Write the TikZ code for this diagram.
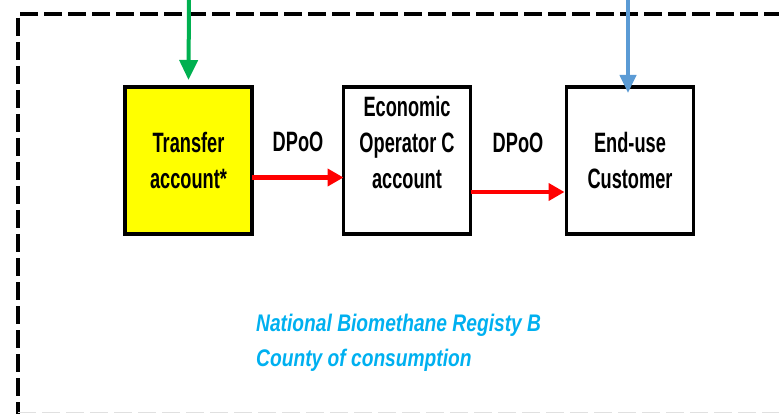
\documentclass[tikz,border=0pt]{standalone}
\usepackage{fontspec}
\newfontfamily\boxfont[FakeStretch=0.65]{Liberation Sans}
\newfontfamily\regfont[FakeStretch=0.8]{Liberation Sans}
\usetikzlibrary{arrows.meta}
\definecolor{boxyellow}{RGB}{255,255,0}
\definecolor{arrred}{RGB}{255,0,0}
\definecolor{arrgreen}{RGB}{0,176,80}
\definecolor{arrblue}{RGB}{91,155,213}
\definecolor{regblue}{RGB}{0,176,240}
\tikzset{
  acctbox/.style={draw=black, line width=3.5pt, minimum width=127pt, minimum height=147pt,
    inner sep=0pt, outer sep=0pt, align=center,
    font=\boxfont\bfseries\fontsize{28}{36}\selectfont},
  lbl/.style={inner sep=0pt, font=\boxfont\bfseries\fontsize{28}{36}\selectfont},
  redarrow/.style={draw=arrred, line width=4.5pt, -{Triangle[length=16pt,width=17pt]}},
  greenarrow/.style={draw=arrgreen, line width=4pt, -{Triangle[length=20pt,width=18pt]}},
  bluearrow/.style={draw=arrblue, line width=4pt, -{Triangle[length=18pt,width=16pt]}},
  border/.style={draw=black, line width=3.5pt, dash pattern=on 18pt off 6pt},
  regtext/.style={text=regblue, inner sep=0pt, align=left,
    font=\regfont\bfseries\itshape\fontsize{24}{35}\selectfont}
}
\begin{document}
\begin{tikzpicture}[x=1pt,y=-1pt]
\useasboundingbox (0,0) rectangle (779,414);
% registry frame
\draw[border] (782,14) -- (18,14) -- (18,416);
\draw[draw=black!12, line width=1.5pt, dash pattern=on 18pt off 6pt] (18,412.5) -- (782,412.5);
% boxes
\node[acctbox, fill=boxyellow] (ta) at (188.5,160.5) {Transfer\\account*};
\node[acctbox, fill=white] (eo) at (407,160.5) {Economic\\Operator C\\account\\\mbox{}};
\node[acctbox, fill=white] (eu) at (630,160.5) {End-use\\Customer};
% incoming arrows
\coordinate (gtop) at (189,-2);
\coordinate (btop) at (628,-2);
\draw[greenarrow] (gtop) -- ([yshift=7pt]ta.north);
\draw[bluearrow] (btop) -- ([xshift=-2pt,yshift=-6pt]eu.north);
% transfers
\draw[redarrow] ([yshift=-17pt]ta.east) -- ([yshift=-17pt]eo.west);
\draw[redarrow] ([yshift=-31.5pt]eo.east) -- ([xshift=-2pt,yshift=-31.5pt]eu.west);
\node[lbl] (d1) at (298,142) {DPoO};
\node[lbl] (d2) at (518,143) {DPoO};
% registry label
\node[regtext, anchor=west] (reg) at (256,343) {National Biomethane Registy B\\County of consumption};
\end{tikzpicture}
\end{document}
